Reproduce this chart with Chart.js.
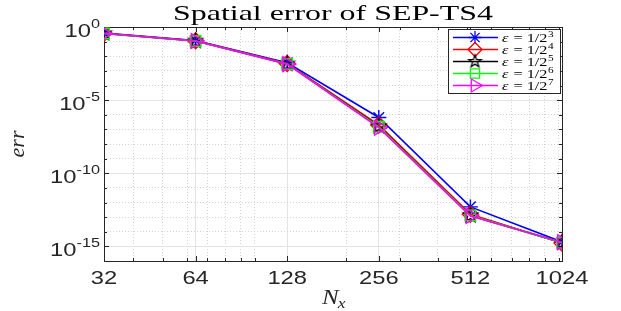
<!DOCTYPE html>
<html>
<head>
<meta charset="utf-8">
<script src="https://cdn.jsdelivr.net/npm/chart.js@4.4.0/dist/chart.umd.min.js"></script>
<style>
  html, body { margin: 0; padding: 0; background: #fff; }
</style>
</head>
<body>
<canvas id="errChart" width="621" height="311"></canvas>
<script>
// Spatial error of SEP-TS4 - log/log convergence plot

// Data
const gridSizes = [32, 64, 128, 256, 512, 1024];
const epsExponents = ['3', '4', '5', '6', '7'];
const errEps3 = [0.38, 0.12, 3.6e-3, 6.5e-7, 5.0e-13, 2.0e-15];
const errEps4 = [0.37, 0.115, 3.2e-3, 2.0e-7, 1.6e-13, 1.7e-15];
const errEps5 = [0.36, 0.11, 3.0e-3, 1.6e-7, 1.3e-13, 1.8e-15];
const errEps6 = [0.36, 0.11, 3.0e-3, 1.5e-7, 1.3e-13, 1.8e-15];
const errEps7 = [0.36, 0.11, 2.9e-3, 1.3e-7, 1.2e-13, 1.9e-15];
const xMinorTicks = [40, 50, 60, 70, 80, 90, 100, 200, 300, 400, 500, 600, 700, 800, 900, 1000];
const yDecades = [-16, -15, -14, -13, -12, -11, -10, -9, -8, -7, -6, -5, -4, -3, -2, -1, 0];
const yLabelDecades = [0, -5, -10, -15];

const seriesColors = ['#0000ff', '#ff0000', '#000000', '#00ff00', '#ff00ff'];
const TEXT_SX = 1.25;   // the reference text is stretched horizontally

// pentagram marker, MATLAB style
function makePentagram(r, color) {
    const c = document.createElement('canvas');
    const size = Math.ceil(r * 2 + 4);
    c.width = size; c.height = size;
    const g = c.getContext('2d');
    g.strokeStyle = color;
    g.lineWidth = 1.3;
    g.beginPath();
    for (let i = 0; i < 10; i++) {
        const rad = i % 2 === 0 ? r : r * 0.4;
        const a = -Math.PI / 2 + i * Math.PI / 5;
        const px = size / 2 + rad * Math.cos(a);
        const py = size / 2 + rad * Math.sin(a);
        if (i === 0) g.moveTo(px, py); else g.lineTo(px, py);
    }
    g.closePath();
    g.stroke();
    return c;
}

const markerStyles = [
    { pointStyle: 'star', rotation: 0, radius: 7.5 },
    { pointStyle: 'rectRot', rotation: 0, radius: 8 },
    { pointStyle: makePentagram(7.5, '#000'), rotation: 0, radius: 7.5 },
    { pointStyle: 'rect', rotation: 0, radius: 7.5 },
    { pointStyle: 'triangle', rotation: 90, radius: 8.5 }
];
const legendMarkers = [
    { pointStyle: 'star', rotation: 0, radius: 6.5 },
    { pointStyle: 'rectRot', rotation: 0, radius: 7 },
    { pointStyle: makePentagram(6.5, '#000'), rotation: 0, radius: 6.5 },
    { pointStyle: 'rect', rotation: 0, radius: 6.5 },
    { pointStyle: 'triangle', rotation: 90, radius: 7.5 }
];

const allSeries = [errEps3, errEps4, errEps5, errEps6, errEps7];

function buildDatasets() {
    return allSeries.map((vals, i) => ({
        label: 'eps = 1/2^' + epsExponents[i],
        data: vals,
        borderColor: seriesColors[i],
        backgroundColor: 'rgba(0,0,0,0)',
        borderWidth: 1.6,
        pointStyle: markerStyles[i].pointStyle,
        pointRotation: markerStyles[i].rotation,
        pointRadius: markerStyles[i].radius,
        pointBorderWidth: 1.4,
        pointBorderColor: seriesColors[i],
        pointBackgroundColor: 'rgba(0,0,0,0)',
        tension: 0,
        order: 4 - i
    }));
}

// Helper Functions
function stretchText(ctx, text, x, y, sx) {
    ctx.save();
    ctx.translate(x, y);
    ctx.scale(sx, 1);
    ctx.fillText(text, 0, 0);
    ctx.restore();
}

// base + superscript, right aligned at x
function powerLabel(ctx, base, exp, xRight, y, font, supFont, sx) {
    ctx.save();
    ctx.textBaseline = 'alphabetic';
    ctx.textAlign = 'left';
    ctx.font = supFont;
    const we = ctx.measureText(exp).width * sx;
    ctx.font = font;
    const wb = ctx.measureText(base).width * sx;
    const x0 = xRight - we - wb;
    stretchText(ctx, base, x0, y, sx);
    ctx.font = supFont;
    stretchText(ctx, exp, x0 + wb, y - 9, sx);
    ctx.restore();
}

const isMajorX = (v) => gridSizes.includes(v);
const isMajorY = (v) => yLabelDecades.some(d => Math.abs(Math.log10(v) - d) < 1e-6);

const axesDecor = {
    id: 'axesDecor',
    beforeDatasetsDraw(chart) {
        const { ctx, chartArea: a } = chart;
        const xs = chart.scales.x, ys = chart.scales.y;
        ctx.save();
        ctx.strokeStyle = '#262626';
        ctx.lineWidth = 1;
        // inward tick marks
        ctx.beginPath();
        gridSizes.concat(xMinorTicks).forEach(v => {
            const px = Math.round(xs.getPixelForValue(v)) + 0.5;
            const len = isMajorX(v) ? 5 : 3;
            ctx.moveTo(px, a.bottom); ctx.lineTo(px, a.bottom - len);
            ctx.moveTo(px, a.top); ctx.lineTo(px, a.top + len);
        });
        yDecades.forEach(d => {
            const py = Math.round(ys.getPixelForValue(Math.pow(10, d))) + 0.5;
            const len = yLabelDecades.includes(d) ? 5 : 3;
            ctx.moveTo(a.left, py); ctx.lineTo(a.left + len, py);
            ctx.moveTo(a.right, py); ctx.lineTo(a.right - len, py);
        });
        ctx.stroke();
        ctx.strokeRect(Math.round(a.left) + 0.5, Math.round(a.top) + 0.5,
            Math.round(a.right - a.left), Math.round(a.bottom - a.top));
        ctx.restore();
    },
    afterDraw(chart) {
        const { ctx, chartArea: a } = chart;
        const xs = chart.scales.x, ys = chart.scales.y;
        ctx.save();
        ctx.fillStyle = '#262626';

        // x tick labels
        ctx.font = '19px "Liberation Sans", Arial, sans-serif';
        ctx.textAlign = 'left';
        ctx.textBaseline = 'alphabetic';
        gridSizes.forEach(v => {
            const t = String(v);
            const w = ctx.measureText(t).width * TEXT_SX;
            stretchText(ctx, t, xs.getPixelForValue(v) - w / 2, a.bottom + 23, TEXT_SX);
        });

        // y tick labels 10^k
        yLabelDecades.forEach(d => {
            const py = ys.getPixelForValue(Math.pow(10, d));
            powerLabel(ctx, '10', String(d), a.left - 4, py + 10,
                '19px "Liberation Sans", Arial, sans-serif',
                '13px "Liberation Sans", Arial, sans-serif', TEXT_SX);
        });

        // title
        ctx.fillStyle = '#000';
        ctx.font = '22px "Liberation Serif", "DejaVu Serif", serif';
        const title = 'Spatial error of SEP-TS4';
        const tw = ctx.measureText(title).width * 1.45;
        stretchText(ctx, title, (a.left + a.right) / 2 - tw / 2, 20, 1.45);

        // axis titles
        ctx.fillStyle = '#262626';
        ctx.font = 'italic 20px "Liberation Serif", "DejaVu Serif", serif';
        const nw = ctx.measureText('N').width * TEXT_SX;
        const nx = (a.left + a.right) / 2 - 11;
        stretchText(ctx, 'N', nx, 304, TEXT_SX);
        ctx.font = 'italic 14px "Liberation Serif", "DejaVu Serif", serif';
        stretchText(ctx, 'x', nx + nw - 1, 308, TEXT_SX);

        ctx.save();
        ctx.translate(24, (a.top + a.bottom) / 2);
        ctx.rotate(-Math.PI / 2);
        ctx.font = 'italic 22px "Liberation Serif", "DejaVu Serif", serif';
        ctx.textAlign = 'center';
        ctx.fillText('err', 0, 0);
        ctx.restore();

        // legend
        const lx = 448, ly = 29, lw = 112, lh = 64;
        ctx.fillStyle = '#fff';
        ctx.fillRect(lx, ly, lw, lh);
        ctx.strokeStyle = '#262626';
        ctx.lineWidth = 1;
        ctx.strokeRect(lx + 0.5, ly + 0.5, lw, lh);
        allSeries.forEach((_, i) => {
            const y = ly + 8.5 + i * 12;
            ctx.strokeStyle = seriesColors[i];
            ctx.lineWidth = 1.6;
            ctx.beginPath();
            ctx.moveTo(lx + 5, y); ctx.lineTo(lx + 50, y);
            ctx.stroke();
            ctx.fillStyle = 'rgba(0,0,0,0)';
            ctx.lineWidth = 1.3;
            Chart.helpers.drawPoint(ctx, {
                pointStyle: legendMarkers[i].pointStyle,
                rotation: legendMarkers[i].rotation,
                radius: legendMarkers[i].radius,
                borderWidth: 1.3
            }, lx + 27, y);
            ctx.fillStyle = '#000';
            let tx = lx + 54;
            ctx.font = 'italic 13px "Liberation Serif", "DejaVu Serif", serif';
            stretchText(ctx, '\u03b5', tx, y + 4.5, TEXT_SX);
            tx += ctx.measureText('\u03b5 ').width * TEXT_SX + 1;
            ctx.font = '13px "Liberation Serif", "DejaVu Serif", serif';
            const rest = '= 1/2';
            stretchText(ctx, rest, tx, y + 4.5, TEXT_SX);
            tx += ctx.measureText(rest).width * TEXT_SX;
            ctx.font = '9px "Liberation Serif", "DejaVu Serif", serif';
            stretchText(ctx, epsExponents[i], tx + 0.5, y - 0.5, TEXT_SX);
        });
        ctx.restore();
    }
};

document.addEventListener('DOMContentLoaded', () => {
    const ctx = document.getElementById('errChart');
    new Chart(ctx, {
        type: 'line',
        data: {
            labels: gridSizes,
            datasets: buildDatasets()
        },
        options: {
            responsive: false,
            animation: false,
            layout: { padding: { left: 0, right: 59, top: 27, bottom: 0 } },
            plugins: {
                legend: { display: false },
                tooltip: { enabled: false },
                title: { display: false }
            },
            scales: {
                x: {
                    type: 'logarithmic',
                    min: 32,
                    max: 1024,
                    afterBuildTicks: (scale) => {
                        scale.ticks = gridSizes.concat(xMinorTicks).sort((p, q) => p - q).map(v => ({ value: v }));
                    },
                    afterFit: (scale) => { scale.height = 50; },
                    ticks: { display: false },
                    border: {
                        display: false,
                        dash: (c) => (c.tick && isMajorX(c.tick.value) ? [] : [1, 2])
                    },
                    grid: {
                        drawTicks: false,
                        color: (c) => (c.tick && isMajorX(c.tick.value) ? '#e3e3e3' : '#d4d4d4'),
                        lineWidth: 1
                    }
                },
                y: {
                    type: 'logarithmic',
                    min: 1e-16,
                    max: 1,
                    afterBuildTicks: (scale) => {
                        scale.ticks = yDecades.map(d => ({ value: Math.pow(10, d) }));
                    },
                    afterFit: (scale) => { scale.width = 104; },
                    ticks: { display: false },
                    border: {
                        display: false,
                        dash: (c) => (c.tick && isMajorY(c.tick.value) ? [] : [1, 2])
                    },
                    grid: {
                        drawTicks: false,
                        color: (c) => (c.tick && isMajorY(c.tick.value) ? '#e3e3e3' : '#d4d4d4'),
                        lineWidth: 1
                    }
                }
            }
        },
        plugins: [axesDecor]
    });
});
</script>
</body>
</html>
